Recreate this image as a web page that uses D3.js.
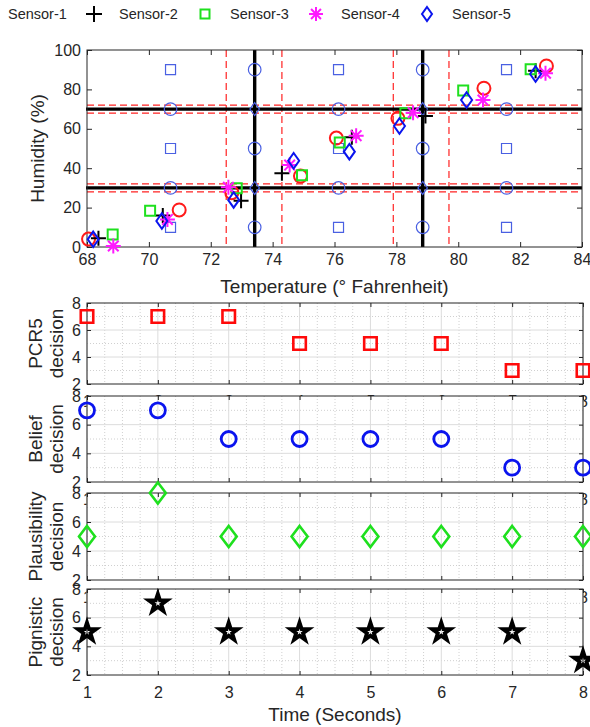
<!DOCTYPE html>
<html>
<head>
<meta charset="utf-8">
<script src="https://cdn.jsdelivr.net/npm/d3@7"></script>
<style>
  body { margin: 0; background: #fff; }
  svg { display: block; }
</style>
</head>
<body>
<svg id="chart" width="590" height="727"></svg>
<script>
// ---------------- data ----------------
const sensorNames = ["Sensor-1", "Sensor-2", "Sensor-3", "Sensor-4", "Sensor-5"];

// temperature (°F) and humidity (%) readings for each sensor, one per time step
const s1Temp = [68.05, 70.98, 72.68, 74.90, 76.06, 78.05, 80.83, 82.85];
const s1Hum  = [4.0, 18.8, 27.6, 36.0, 55.3, 65.3, 80.6, 91.9];
const s2Temp = [68.37, 70.45, 72.98, 74.30, 76.56, 78.94, null, 82.50];
const s2Hum  = [4.5, 16.0, 23.5, 37.4, 55.7, 66.5, null, 89.5];
const s3Temp = [68.83, 70.04, 72.84, 74.95, 76.17, 78.29, 80.16, 82.34];
const s3Hum  = [6.4, 18.4, 29.8, 36.4, 53.0, 67.9, 79.4, 90.2];
const s4Temp = [68.85, 70.60, 72.57, 74.55, 76.70, 78.54, 80.80, 82.82];
const s4Hum  = [0.5, 14.0, 30.3, 41.6, 56.5, 68.2, 74.6, 88.2];
const s5Temp = [68.20, 70.42, 72.74, 74.68, 76.48, 78.10, 80.27, 82.50];
const s5Hum  = [3.9, 13.2, 23.9, 43.8, 48.4, 61.4, 74.6, 87.8];

// reference states of the frame of discernment
const refTemp = [70.70, 73.42, 76.13, 78.85, 81.56];
const refHum  = [90, 70, 50, 30, 10];
const refShapes = [
  ["square", "circle", "square", "circle", "square"],
  ["circle", "diamond", "circle", "diamond", "circle"],
  ["square", "circle", "square", "circle", "square"],
  ["circle", "diamond", "circle", "diamond", "circle"],
  ["square", "circle", "square", "circle", "square"]
];

// class boundaries and their uncertainty bands
const tempCuts  = [73.42, 78.85];
const tempBands = [72.5, 74.3, 77.9, 79.7];
const humCuts   = [30, 70];
const humBands  = [28, 32, 68, 72];

const tempTicks = [68, 70, 72, 74, 76, 78, 80, 82, 84];
const humTicks  = [0, 20, 40, 60, 80, 100];

// decisions over time
const timeSteps    = [1, 2, 3, 4, 5, 6, 7, 8];
const pcr5         = [7, 7, 7, 5, 5, 5, 3, 3];
const belief       = [7, 7, 5, 5, 5, 5, 3, 3];
const plausibility = [5, 8, 5, 5, 5, 5, 5, 5];
const pignistic    = [5, 7, 5, 5, 5, 5, 5, 3];
const decisionTicks = [2, 4, 6, 8];

// ---------------- drawing ----------------
const FONT = '"Liberation Sans", Arial, Helvetica, sans-serif';
const AX = "#262626";
const intFmt = d3.format("d");
const svg = d3.select("#chart");

function markerPath(kind, w, h) {
  h = h == null ? w : h;
  const p = d3.path();
  if (kind === "circle") {
    p.moveTo(w / 2, 0); p.arc(0, 0, w / 2, 0, 2 * Math.PI); p.closePath();
  } else if (kind === "square") {
    p.rect(-w / 2, -h / 2, w, h);
  } else if (kind === "diamond") {
    p.moveTo(0, -h / 2); p.lineTo(w / 2, 0); p.lineTo(0, h / 2); p.lineTo(-w / 2, 0); p.closePath();
  } else if (kind === "plus") {
    p.moveTo(-w / 2, 0); p.lineTo(w / 2, 0); p.moveTo(0, -w / 2); p.lineTo(0, w / 2);
  } else if (kind === "asterisk") {
    const r = w / 2, d = r * Math.SQRT1_2;
    p.moveTo(-r, 0); p.lineTo(r, 0); p.moveTo(0, -r); p.lineTo(0, r);
    p.moveTo(-d, -d); p.lineTo(d, d); p.moveTo(-d, d); p.lineTo(d, -d);
  } else if (kind === "pentagram") {
    const R = w / 2, r = R * 0.382;
    for (let i = 0; i < 10; i++) {
      const a = -Math.PI / 2 + i * Math.PI / 5, rr = i % 2 ? r : R;
      const px = rr * Math.cos(a), py = rr * Math.sin(a);
      if (i) p.lineTo(px, py); else p.moveTo(px, py);
    }
    p.closePath();
  }
  return p.toString();
}

function styleAxis(g, fontSize) {
  g.select(".domain").remove();
  g.selectAll(".tick line").attr("stroke", AX).attr("stroke-width", 1);
  g.selectAll(".tick text")
    .attr("fill", AX).style("font-family", FONT).style("font-size", fontSize + "px");
}

// ----- top scatter plot -----
const topBox = { l: 87, r: 582, t: 50, b: 247 };
const xT = d3.scaleLinear().domain([68, 84]).range([topBox.l, topBox.r]);
const yH = d3.scaleLinear().domain([0, 100]).range([topBox.b, topBox.t]);

const gTop = svg.append("g");

// axes and ticks (pointing inward)
gTop.append("g").attr("transform", `translate(0,${topBox.b})`)
  .call(d3.axisBottom(xT).tickValues(tempTicks).tickFormat(intFmt).tickSizeInner(-5).tickSizeOuter(0).tickPadding(7))
  .call(g => styleAxis(g, 16));
gTop.append("g").attr("transform", `translate(0,${topBox.t})`)
  .call(d3.axisTop(xT).tickValues(tempTicks).tickSizeInner(-5).tickSizeOuter(0).tickFormat(""))
  .call(g => styleAxis(g, 16));
gTop.append("g").attr("transform", `translate(${topBox.l},0)`)
  .call(d3.axisLeft(yH).tickValues(humTicks).tickFormat(intFmt).tickSizeInner(-5).tickSizeOuter(0).tickPadding(6))
  .call(g => styleAxis(g, 16));
gTop.append("g").attr("transform", `translate(${topBox.r},0)`)
  .call(d3.axisRight(yH).tickValues(humTicks).tickSizeInner(-5).tickSizeOuter(0).tickFormat(""))
  .call(g => styleAxis(g, 16));

// uncertainty bands (dashed red)
gTop.selectAll("line.tband").data(tempBands).join("line")
  .attr("x1", d => xT(d)).attr("x2", d => xT(d))
  .attr("y1", topBox.t).attr("y2", topBox.b)
  .attr("stroke", "#f22").attr("stroke-width", 1.2).attr("stroke-dasharray", "7,4");
gTop.selectAll("line.hband").data(humBands).join("line")
  .attr("x1", topBox.l).attr("x2", topBox.r)
  .attr("y1", d => yH(d)).attr("y2", d => yH(d))
  .attr("stroke", "#f22").attr("stroke-width", 1.2).attr("stroke-dasharray", "7,4");

// class boundaries (thick black)
gTop.selectAll("line.tcut").data(tempCuts).join("line")
  .attr("x1", d => xT(d)).attr("x2", d => xT(d))
  .attr("y1", topBox.t).attr("y2", topBox.b)
  .attr("stroke", "#000").attr("stroke-width", 3.4);
gTop.selectAll("line.hcut").data(humCuts).join("line")
  .attr("x1", topBox.l - 1).attr("x2", topBox.r)
  .attr("y1", d => yH(d)).attr("y2", d => yH(d))
  .attr("stroke", "#000").attr("stroke-width", 3.4);

// axes box
gTop.append("rect")
  .attr("x", topBox.l).attr("y", topBox.t)
  .attr("width", topBox.r - topBox.l).attr("height", topBox.b - topBox.t)
  .attr("fill", "none").attr("stroke", AX).attr("stroke-width", 1);

// reference states
const refSize = { square: [10, 10], circle: [12.6, 12.6], diamond: [9.5, 13] };
const refPts = [];
refTemp.forEach((t, i) => refHum.forEach((h, j) => refPts.push({ t, h, k: refShapes[i][j] })));
gTop.selectAll("path.ref").data(refPts).join("path")
  .attr("transform", d => `translate(${xT(d.t)},${yH(d.h)})`)
  .attr("d", d => markerPath(d.k, refSize[d.k][0], refSize[d.k][1]))
  .attr("fill", "none").attr("stroke", "#4a60e2").attr("stroke-width", 1.2);

// sensor readings
const sensorTemps = [s1Temp, s2Temp, s3Temp, s4Temp, s5Temp];
const sensorHums  = [s1Hum, s2Hum, s3Hum, s4Hum, s5Hum];
const sensorMarks = [
  { kind: "circle",   w: 13,  h: 13, color: "#ff1a1a" },
  { kind: "plus",     w: 15,  h: 15, color: "#000" },
  { kind: "square",   w: 10,  h: 10, color: "#1ee01e" },
  { kind: "asterisk", w: 15,  h: 15, color: "#ff1aff" },
  { kind: "diamond",  w: 11,  h: 15.5, color: "#0a14ee" }
];
sensorNames.forEach((name, s) => {
  const m = sensorMarks[s];
  const pts = sensorTemps[s].map((t, i) => ({ t, h: sensorHums[s][i] })).filter(d => d.t != null);
  gTop.append("g").selectAll("path").data(pts).join("path")
    .attr("transform", d => `translate(${xT(d.t)},${yH(d.h)})`)
    .attr("d", markerPath(m.kind, m.w, m.h))
    .attr("fill", "none").attr("stroke", m.color).attr("stroke-width", 2);
});

// axis titles
gTop.append("text")
  .attr("x", (topBox.l + topBox.r) / 2).attr("y", 293)
  .attr("text-anchor", "middle").attr("fill", AX)
  .style("font-family", FONT).style("font-size", "19px")
  .text("Temperature (° Fahrenheit)");
gTop.append("text")
  .attr("transform", `translate(44,${(topBox.t + topBox.b) / 2}) rotate(-90)`)
  .attr("text-anchor", "middle").attr("fill", AX)
  .style("font-family", FONT).style("font-size", "19px")
  .text("Humidity (%)");

// legend (first entry sits partly outside the page)
const legend = svg.append("g");
const legendX = d3.scaleLinear().domain([0, 1]).range([-17, 94]);
const legendMarks = [
  { kind: "circle",   w: 12, h: 12 },
  { kind: "plus",     w: 16, h: 16 },
  { kind: "square",   w: 9,  h: 9 },
  { kind: "asterisk", w: 14, h: 14 },
  { kind: "diamond",  w: 10, h: 14 }
];
sensorNames.forEach((name, s) => {
  const cx = legendX(s);
  legend.append("path")
    .attr("transform", `translate(${cx},14)`)
    .attr("d", markerPath(legendMarks[s].kind, legendMarks[s].w, legendMarks[s].h))
    .attr("fill", "none").attr("stroke", sensorMarks[s].color).attr("stroke-width", 2);
  legend.append("text")
    .attr("x", cx + 25).attr("y", 19)
    .attr("fill", AX).style("font-family", FONT).style("font-size", "14.5px")
    .text(name);
});

// ----- decision panels -----
const xTime = d3.scaleLinear().domain([1, 8]).range([87, 583]);
const panels = [
  { top: 303, bottom: 384, values: pcr5, label: ["PCR5", "decision"],
    mark: { kind: "square", w: 12.5, h: 12.5, color: "#ff0a0a", sw: 2.6 } },
  { top: 396, bottom: 482, values: belief, label: ["Belief", "decision"],
    mark: { kind: "circle", w: 15, h: 15, color: "#0a14ee", sw: 2.8 } },
  { top: 493, bottom: 580, values: plausibility, label: ["Plausibility", "decision"],
    mark: { kind: "diamond", w: 16, h: 21, color: "#1ee01e", sw: 2.6 } },
  { top: 589, bottom: 675, values: pignistic, label: ["Pignistic", "decision"],
    mark: { kind: "pentagram", w: 19, h: 19, color: "#000", sw: 3.8 } }
];

const minorX = d3.range(1, 8.001, 0.25).filter(v => Math.abs(v - Math.round(v)) > 1e-6);
const minorY = [3, 5, 7];
const majorY = [4, 6];

panels.forEach((p, idx) => {
  const y = d3.scaleLinear().domain([2, 8]).range([p.bottom, p.top]);
  const g = svg.append("g");
  const [x0, x1] = xTime.range();

  // axes background
  g.append("rect").attr("x", x0).attr("y", p.top)
    .attr("width", x1 - x0).attr("height", p.bottom - p.top).attr("fill", "#fff");

  // minor grid
  g.selectAll("line.mx").data(minorX).join("line")
    .attr("x1", d => xTime(d)).attr("x2", d => xTime(d)).attr("y1", p.top).attr("y2", p.bottom)
    .attr("stroke", "#c4c4c4").attr("stroke-width", 0.8).attr("stroke-dasharray", "1,2");
  g.selectAll("line.my").data(minorY).join("line")
    .attr("x1", x0).attr("x2", x1).attr("y1", d => y(d)).attr("y2", d => y(d))
    .attr("stroke", "#c4c4c4").attr("stroke-width", 0.8).attr("stroke-dasharray", "1,2");
  // major grid
  g.selectAll("line.gx").data(timeSteps).join("line")
    .attr("x1", d => xTime(d)).attr("x2", d => xTime(d)).attr("y1", p.top).attr("y2", p.bottom)
    .attr("stroke", "#dcdcdc").attr("stroke-width", 1);
  g.selectAll("line.gy").data(majorY).join("line")
    .attr("x1", x0).attr("x2", x1).attr("y1", d => y(d)).attr("y2", d => y(d))
    .attr("stroke", "#dcdcdc").attr("stroke-width", 1);

  // box
  g.append("rect").attr("x", x0).attr("y", p.top)
    .attr("width", x1 - x0).attr("height", p.bottom - p.top)
    .attr("fill", "none").attr("stroke", AX).attr("stroke-width", 1);

  // ticks (x labels of upper panels end up beneath the next panel)
  g.append("g").attr("transform", `translate(0,${p.bottom})`)
    .call(d3.axisBottom(xTime).tickValues(timeSteps).tickFormat(intFmt).tickSizeInner(-4).tickSizeOuter(0).tickPadding(12))
    .call(a => styleAxis(a, 16));
  g.append("g").attr("transform", `translate(0,${p.top})`)
    .call(d3.axisTop(xTime).tickValues(timeSteps).tickSizeInner(-4).tickSizeOuter(0).tickFormat(""))
    .call(a => styleAxis(a, 16));
  g.append("g").attr("transform", `translate(${x0},0)`)
    .call(d3.axisLeft(y).tickValues(decisionTicks).tickFormat(intFmt).tickSizeInner(-4).tickSizeOuter(0).tickPadding(6))
    .call(a => styleAxis(a, 16));
  g.append("g").attr("transform", `translate(${x1},0)`)
    .call(d3.axisRight(y).tickValues(decisionTicks).tickSizeInner(-4).tickSizeOuter(0).tickFormat(""))
    .call(a => styleAxis(a, 16));

  // decisions
  g.selectAll("path.dec").data(timeSteps.map((t, i) => ({ t, v: p.values[i] }))).join("path")
    .attr("transform", d => `translate(${xTime(d.t)},${y(d.v)})`)
    .attr("d", markerPath(p.mark.kind, p.mark.w, p.mark.h))
    .attr("fill", "none").attr("stroke", p.mark.color)
    .attr("stroke-width", p.mark.sw).attr("stroke-linejoin", "miter");

  // two-line y label
  const cy = (p.top + p.bottom) / 2;
  [42, 63].forEach((bx, li) => {
    g.append("text")
      .attr("transform", `translate(${bx},${cy}) rotate(-90)`)
      .attr("text-anchor", "middle").attr("fill", AX)
      .style("font-family", FONT).style("font-size", "19px")
      .text(p.label[li]);
  });
});

svg.append("text")
  .attr("x", 335).attr("y", 721)
  .attr("text-anchor", "middle").attr("fill", AX)
  .style("font-family", FONT).style("font-size", "19px")
  .text("Time (Seconds)");
</script>
</body>
</html>
